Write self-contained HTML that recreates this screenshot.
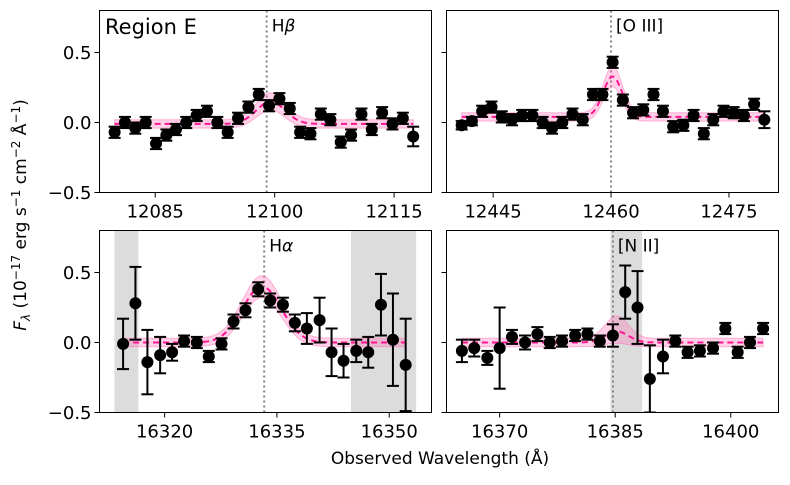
<!DOCTYPE html>
<html><head><meta charset="utf-8"><style>
html,body{margin:0;padding:0;background:#fff;}
svg{display:block;font-family:"DejaVu Sans","Liberation Sans",sans-serif;}
</style></head><body>
<svg id="fig" width="790" height="485" viewBox="0 0 790 485" xmlns="http://www.w3.org/2000/svg">
<text x="26" y="215" transform="rotate(-90 26 215)" text-anchor="middle" font-size="17"><tspan font-style="italic">F</tspan><tspan font-style="italic" font-size="12" dy="4">λ</tspan><tspan dy="-4"> (10</tspan><tspan font-size="12" dy="-6">−17</tspan><tspan dy="6"> erg s</tspan><tspan font-size="12" dy="-6">−1</tspan><tspan dy="6"> cm</tspan><tspan font-size="12" dy="-6">−2</tspan><tspan dy="6"> Å</tspan><tspan font-size="12" dy="-6">−1</tspan><tspan dy="6">)</tspan></text>
<text x="440" y="464" text-anchor="middle" font-size="17">Observed Wavelength (Å)</text>
</svg>
<script>
// Panel A: H-beta
const hbWave=[12079.9,12081.2,12082.5,12083.8,12085.1,12086.4,12087.6,12088.9,12090.2,12091.5,12092.8,12094.1,12095.4,12096.7,12098.0,12099.3,12100.6,12101.9,12103.2,12104.5,12105.8,12107.0,12108.3,12109.6,12110.9,12112.2,12113.5,12114.8,12116.1,12117.4];
const hbFlux=[-0.07,0,-0.04,0,-0.15,-0.09,-0.05,0,0.05,0.08,0,-0.07,0.03,0.11,0.2,0.12,0.17,0.1,-0.07,-0.08,0.06,0.02,-0.14,-0.09,0.06,-0.05,0.07,-0.01,0.03,-0.1];
const hbErr=[0.04,0.04,0.04,0.04,0.04,0.04,0.04,0.04,0.04,0.04,0.04,0.04,0.04,0.04,0.04,0.04,0.04,0.04,0.04,0.04,0.04,0.04,0.04,0.04,0.04,0.04,0.04,0.04,0.04,0.07];
const hbFit=[12099.5,0.16,1.8,-0.01]; // center, amp, sigma, baseline
// Panel B: [O III]
const o3Wave=[12441.0,12442.3,12443.6,12444.8,12446.1,12447.4,12448.7,12450.0,12451.3,12452.5,12453.8,12455.1,12456.4,12457.7,12458.9,12460.2,12461.5,12462.8,12464.1,12465.4,12466.6,12467.9,12469.2,12470.5,12471.8,12473.0,12474.3,12475.6,12476.9,12478.2,12479.5];
const o3Flux=[-0.02,0.01,0.08,0.11,0.04,0.02,0.05,0.05,0,-0.04,0,0.06,0.02,0.2,0.2,0.43,0.16,0.07,0.09,0.2,0.08,-0.03,-0.02,0.05,-0.08,0.02,0.08,0.07,0.05,0.13,0.02];
const o3Err=[0.03,0.03,0.04,0.04,0.04,0.04,0.04,0.04,0.04,0.04,0.04,0.04,0.04,0.04,0.04,0.04,0.04,0.04,0.04,0.04,0.04,0.04,0.04,0.04,0.04,0.04,0.04,0.04,0.04,0.04,0.06];
const o3Fit=[12460.2,0.29,1.2,0.04];
// Panel C: H-alpha
const haWave=[16314.45,16316.1,16317.7,16319.4,16321.0,16322.6,16324.3,16325.9,16327.6,16329.2,16330.8,16332.5,16334.1,16335.8,16337.4,16339.0,16340.7,16342.3,16343.9,16345.6,16347.2,16348.9,16350.5,16352.2];
const haFlux=[-0.01,0.28,-0.14,-0.09,-0.07,0.01,0,-0.1,-0.01,0.15,0.23,0.38,0.3,0.27,0.14,0.1,0.16,-0.07,-0.13,-0.06,-0.07,0.27,0.02,-0.16];
const haErr=[0.18,0.26,0.23,0.13,0.06,0.04,0.04,0.04,0.04,0.05,0.05,0.05,0.05,0.05,0.06,0.11,0.16,0.17,0.12,0.08,0.11,0.22,0.33,0.33];
const haFit=[16333.0,0.4,2.6,0];
const haMask=[[16313.3,16316.5],[16344.9,16353.6]];
// Panel D: [N II]
const n2Wave=[16365.1,16366.7,16368.4,16370.0,16371.6,16373.3,16374.9,16376.5,16378.1,16379.8,16381.4,16383.0,16384.7,16386.3,16387.9,16389.5,16391.2,16392.8,16394.4,16396.0,16397.7,16399.3,16400.9,16402.5,16404.2];
const n2Flux=[-0.06,-0.04,-0.11,-0.04,0.04,0,0.06,0,0.01,0.05,0.06,0.01,0.05,0.36,0.25,-0.26,-0.1,0.01,-0.07,-0.06,-0.04,0.1,-0.07,0,0.1];
const n2Err=[0.08,0.06,0.05,0.29,0.05,0.05,0.05,0.04,0.04,0.04,0.04,0.04,0.08,0.19,0.26,0.24,0.12,0.04,0.04,0.04,0.04,0.04,0.04,0.04,0.04];
const n2Fit=[16385.2,0.08,1.5,0];
const n2Mask=[[16384.4,16388.5]];

const NS='http://www.w3.org/2000/svg';
const svg=document.getElementById('fig');
function mk(tag,attrs,parent){const e=document.createElementNS(NS,tag);for(const k in attrs)e.setAttribute(k,attrs[k]);(parent||svg).appendChild(e);return e;}
const YMIN=-0.5,YMAX=0.8;
function panel(cfg){
  const {x0,x1,y0,y1,xmin,xmax,wave,flux,err,fit,mask,vline,label,xticks,ylabels,name,bandHi,bandLo}=cfg;
  const g=mk('g',{});
  
  
  const sx=v=>x0+(v-xmin)/(xmax-xmin)*(x1-x0);
  const sy=v=>y1-(v-YMIN)/(YMAX-YMIN)*(y1-y0);
  const cp=mk('clipPath',{id:'clip-'+name},g);mk('rect',{x:x0,y:y0,width:x1-x0,height:y1-y0},cp);
  const inner=mk('g',{'clip-path':'url(#clip-'+name+')'},g);
  (mask||[]).forEach(m=>{const r=mk('rect',{x:sx(m[0]),y:y0,width:sx(m[1])-sx(m[0]),height:y1-y0,fill:'#dcdcdc'},inner);
    
    });
  const vl=mk('line',{x1:sx(vline),x2:sx(vline),y1:y0,y2:y1,stroke:'#808080','stroke-width':2,'stroke-dasharray':'2,3'},inner);
  
  
  const [c,a,s,b]=fit;const lo=wave[0],hi=wave[wave.length-1];
  const up=[],dn=[],md=[];
  for(let i=0;i<=120;i++){const w=lo+(hi-lo)*i/120;const gss=Math.exp(-0.5*((w-c)/s)**2);
    md.push([sx(w),sy(b+a*gss)]);up.push([sx(w),sy(b+a*gss*bandHi+0.03)]);dn.push([sx(w),sy(b+a*gss*bandLo-0.03)]);}
  const band=mk('path',{d:'M'+up.map(p=>p.join(',')).join('L')+'L'+dn.reverse().map(p=>p.join(',')).join('L')+'Z',fill:'rgba(255,105,180,0.3)',stroke:'rgba(255,105,180,0.45)','stroke-width':1},inner);
  
  
  const fl=mk('path',{d:'M'+md.map(p=>p.join(',')).join('L'),fill:'none',stroke:'#ff1493','stroke-width':2,'stroke-dasharray':'6,4'},inner);
  
  
  wave.forEach((w,i)=>{const X=sx(w),Y=sy(flux[i]),Yt=sy(flux[i]+err[i]),Yb=sy(flux[i]-err[i]);
    const eg=mk('g',{stroke:'#000','stroke-width':2},inner);
    
    
    mk('line',{x1:X,x2:X,y1:Yt,y2:Yb},eg);
    mk('line',{x1:X-6,x2:X+6,y1:Yt,y2:Yt},eg);
    mk('line',{x1:X-6,x2:X+6,y1:Yb,y2:Yb},eg);
    const pt=mk('circle',{cx:X,cy:Y,r:6,fill:'#000'},inner);
    
    });
  const fr=mk('rect',{x:x0,y:y0,width:x1-x0,height:y1-y0,fill:'none',stroke:'#000','stroke-width':1},g);
  
  
  xticks.forEach(t=>{const X=sx(t);mk('line',{x1:X,x2:X,y1:y1,y2:y1+5,stroke:'#000'},g);
    const tl=mk('text',{x:X,y:y1+25,'text-anchor':'middle','font-size':18},g);tl.textContent=t;
    
    });
  [0.5,0,-0.5].forEach(t=>{const Y=sy(t);mk('line',{x1:x0-5,x2:x0,y1:Y,y2:Y,stroke:'#000'},g);
    if(ylabels){const tl=mk('text',{x:x0-8,y:Y+6.5,'text-anchor':'end','font-size':18},g);tl.textContent=t===0?'0.0':(t>0?'0.5':'−0.5');
      
      }});
  const lt=mk('text',{x:sx(vline)+5,y:y0+21,'font-size':17},g);
  lt.innerHTML=label;
  
  
  return {g,sx,sy};
}
const pA=panel({name:'hbeta',x0:99.5,x1:431.5,y0:10.5,y1:192.5,xmin:12078.0,xmax:12119.7,wave:hbWave,flux:hbFlux,err:hbErr,fit:hbFit,vline:12099.0,label:'H<tspan font-style="italic">β</tspan>',xticks:[12085,12100,12115],ylabels:true,bandHi:1.2,bandLo:0.8});
const rt=mk('text',{x:105,y:34,'font-size':21},pA.g);rt.textContent='Region E';


panel({name:'oiii',x0:446.5,x1:778.5,y0:10.5,y1:192.5,xmin:12439.07,xmax:12481.3,wave:o3Wave,flux:o3Flux,err:o3Err,fit:o3Fit,vline:12460.0,label:'[O III]',xticks:[12445,12460,12475],ylabels:false,bandHi:1.15,bandLo:0.85});
panel({name:'halpha',x0:99.5,x1:431.5,y0:230.5,y1:412.5,xmin:16311.3,xmax:16355.65,wave:haWave,flux:haFlux,err:haErr,fit:haFit,mask:haMask,vline:16333.3,label:'H<tspan font-style="italic">α</tspan>',xticks:[16320,16335,16350],ylabels:true,bandHi:1.12,bandLo:0.88});
panel({name:'nii',x0:446.5,x1:778.5,y0:230.5,y1:412.5,xmin:16363.1,xmax:16406.2,wave:n2Wave,flux:n2Flux,err:n2Err,fit:n2Fit,mask:n2Mask,vline:16384.7,label:'[N II]',xticks:[16370,16385,16400],ylabels:false,bandHi:2.0,bandLo:0.3});
</script>
</body></html>
